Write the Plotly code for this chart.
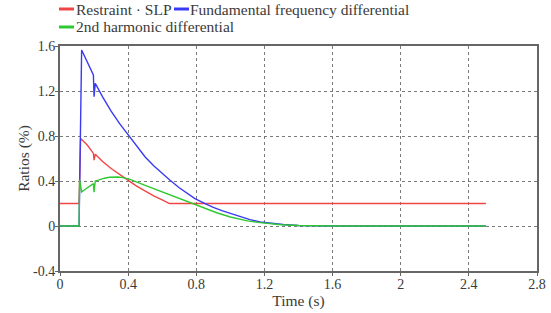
import plotly.graph_objects as go

# Time (s) and values (%)
t_red = [0.0, 0.112, 0.121, 0.16, 0.196, 0.200, 0.207, 0.25, 0.30, 0.35, 0.411, 0.45, 0.50, 0.55, 0.60, 0.642,
         1.0, 1.6, 2.5]
restraint = [0.2, 0.2, 0.778, 0.72, 0.645, 0.585, 0.638, 0.574, 0.511, 0.455, 0.395, 0.354, 0.307, 0.267, 0.233,
             0.2, 0.2, 0.2, 0.2]

t_blue = [0.0, 0.112, 0.127, 0.16, 0.196, 0.200, 0.207, 0.25, 0.30, 0.35, 0.411, 0.45, 0.50, 0.55, 0.60, 0.646,
          0.70, 0.75, 0.792, 0.861, 0.90, 0.95, 1.0, 1.05, 1.115, 1.174, 1.25, 1.31, 1.4, 1.5, 1.6, 2.0, 2.5]
fundamental = [0.0, 0.0, 1.565, 1.455, 1.342, 1.149, 1.268, 1.148, 1.022, 0.91, 0.79, 0.708, 0.614, 0.535, 0.466,
               0.407, 0.34, 0.285, 0.244, 0.193, 0.165, 0.137, 0.112, 0.087, 0.057, 0.036, 0.022, 0.013, 0.005,
               0.001, 0.0, 0.0, 0.0]

t_green = [0.0, 0.112, 0.115, 0.127, 0.14, 0.16, 0.18, 0.196, 0.200, 0.207, 0.23, 0.26, 0.29, 0.313, 0.34, 0.37,
           0.411, 0.5, 0.6, 0.7, 0.78, 0.85, 0.92, 1.0, 1.05, 1.1, 1.174, 1.25, 1.3, 1.4, 1.5, 1.6, 2.0, 2.5]
harmonic2 = [0.0, 0.0, 0.41, 0.303, 0.318, 0.34, 0.36, 0.377, 0.30, 0.40, 0.41, 0.425, 0.433, 0.436, 0.436, 0.43,
             0.415, 0.362, 0.305, 0.247, 0.2, 0.158, 0.118, 0.08, 0.062, 0.046, 0.03, 0.018, 0.011, 0.004, 0.001,
             0.0, 0.0, 0.0]

series_names = ["Restraint · SLP", "Fundamental frequency differential", "2nd harmonic differential"]
colors = ["#f04545", "#3a3af5", "#30c830"]

x_ticks = [0, 0.4, 0.8, 1.2, 1.6, 2, 2.4, 2.8]
x_ticktext = ["0", "0.4", "0.8", "1.2", "1.6", "2", "2.4", "2.8"]
y_ticks = [-0.4, 0, 0.4, 0.8, 1.2, 1.6]
y_ticktext = ["-0.4", "0", "0.4", "0.8", "1.2", "1.6"]

FONT = "Liberation Serif"
TXT = "#3a3a3a"

fig = go.Figure()
for tx, ty, name, c in [(t_red, restraint, series_names[0], colors[0]),
                        (t_blue, fundamental, series_names[1], colors[1]),
                        (t_green, harmonic2, series_names[2], colors[2])]:
    fig.add_trace(go.Scatter(x=tx, y=ty, mode="lines", name=name,
                             line=dict(color=c, width=1.4), showlegend=False))

fig_w, fig_h = 551, 313
ml, mr, mt, mb = 60, 14, 46, 42
pw, ph = fig_w - ml - mr, fig_h - mt - mb

def px2paper(x, y):
    return (x - ml) / pw, (fig_h - mb - y) / ph

# manual legend (window pixels -> paper coordinates)
legend_items = [(59, 74, 9, 76, 0), (174, 189, 9, 190, 1), (59, 74, 27, 76, 2)]
for x0, x1, yy, xt, i in legend_items:
    a0, b0 = px2paper(x0, yy)
    a1, _ = px2paper(x1, yy)
    fig.add_shape(type="line", xref="paper", yref="paper", x0=a0, x1=a1, y0=b0, y1=b0,
                  line=dict(color=colors[i], width=3))
    at, bt = px2paper(xt, yy)
    fig.add_annotation(xref="paper", yref="paper", x=at, y=bt, text=series_names[i],
                       showarrow=False, xanchor="left", yanchor="middle", xshift=-2,
                       font=dict(family=FONT, size=15.5, color=TXT))

fig.update_layout(
    width=fig_w, height=fig_h,
    margin=dict(l=ml, r=mr, t=mt, b=mb, autoexpand=False),
    paper_bgcolor="white", plot_bgcolor="white",
    font=dict(family=FONT, size=13.5, color=TXT),
)
fig.update_xaxes(range=[0, 2.8], tickvals=x_ticks, ticktext=x_ticktext, automargin=False,
                 showgrid=True, gridcolor="#7a7a7a", griddash="dot", gridwidth=1,
                 showline=True, linecolor="#666666", linewidth=2, mirror=True,
                 ticks="outside", ticklen=3, tickcolor="#666666", zeroline=False,
                 ticklabelstandoff=-4,
                 tickfont=dict(family=FONT, size=14, color=TXT),
                 title=dict(text="Time (s)", font=dict(family=FONT, size=15.5, color=TXT), standoff=2))
fig.update_yaxes(range=[-0.4, 1.6], tickvals=y_ticks, ticktext=y_ticktext, automargin=False,
                 showgrid=True, gridcolor="#7a7a7a", griddash="dot", gridwidth=1,
                 showline=True, linecolor="#666666", linewidth=2, mirror=True,
                 ticks="outside", ticklen=3, tickcolor="#666666", zeroline=False,
                 ticklabelstandoff=-3,
                 tickfont=dict(family=FONT, size=14, color=TXT),
                 title=dict(text="Ratios (%)", font=dict(family=FONT, size=15.5, color=TXT), standoff=0))

fig.write_html("out.html", config={"displayModeBar": False},
               post_script="document.body.style.margin='0';")
